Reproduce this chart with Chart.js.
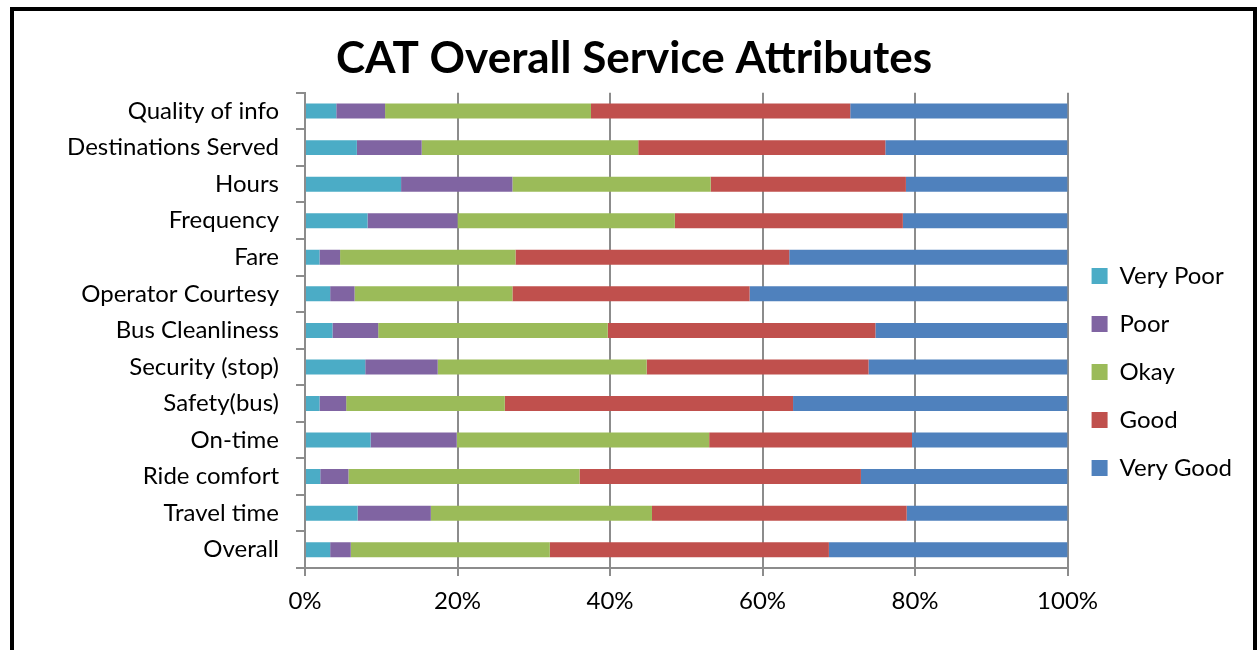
<!DOCTYPE html>
<html lang="en">
<head>
    <meta charset="UTF-8">
    <title>CAT Overall Service Attributes</title>
    <script src="https://cdn.jsdelivr.net/npm/chart.js"></script>
    <style>
        * {
            margin: 0;
            padding: 0;
            box-sizing: border-box;
        }

        body {
            background: #fff;
            overflow: hidden;
            width: 1257px;
            height: 650px;
            position: relative;
        }

        #chart {
            position: absolute;
            left: 0;
            top: 0;
        }

        .frame {
            position: absolute;
            left: 10px;
            top: 7px;
            width: 1247px;
            height: 700px;
            border: 4px solid #000;
            pointer-events: none;
        }
    </style>
</head>
<body>

<canvas id="chart" width="1257" height="732"></canvas>
<div class="frame"></div>

<script>
    // categories, top to bottom
    const categories = ['Quality of info', 'Destinations Served', 'Hours', 'Frequency', 'Fare',
        'Operator Courtesy', 'Bus Cleanliness', 'Security (stop)', 'Safety(bus)', 'On-time',
        'Ride comfort', 'Travel time', 'Overall'];

    // percent of responses per rating
    const veryPoor = [4.1, 6.8, 12.6, 8.2, 1.9, 3.3, 3.6, 7.9, 1.9, 8.6, 2.0, 6.9, 3.3];
    const poor     = [6.4, 8.5, 14.6, 11.8, 2.7, 3.2, 6.0, 9.5, 3.5, 11.3, 3.7, 9.6, 2.7];
    const okay     = [27.0, 28.4, 26.0, 28.5, 23.0, 20.7, 30.1, 27.4, 20.8, 33.1, 30.3, 29.0, 26.1];
    const good     = [34.0, 32.4, 25.6, 29.9, 35.9, 31.1, 35.1, 29.1, 37.8, 26.6, 36.9, 33.4, 36.6];
    const veryGood = [28.5, 23.9, 21.2, 21.6, 36.5, 41.7, 25.2, 26.1, 36.0, 20.4, 27.1, 21.1, 31.3];

    const xTicks = [0, 20, 40, 60, 80, 100];

    const gridColor = '#8c8c8c';
    const fontFamily = 'Lato, "Open Sans", sans-serif';
    const padLeft = 26;

    Chart.defaults.color = '#000';
    Chart.defaults.font.family = fontFamily;

    function series(label, data, color) {
        return {
            label: label,
            data: data,
            backgroundColor: color,
            borderWidth: 0,
            categoryPercentage: 1,
            barPercentage: 0.41
        };
    }

    new Chart(document.getElementById('chart'), {
        type: 'bar',
        data: {
            labels: categories,
            datasets: [
                series('Very Poor', veryPoor, '#4BACC6'),
                series('Poor', poor, '#8064A2'),
                series('Okay', okay, '#9BBB59'),
                series('Good', good, '#C0504D'),
                series('Very Good', veryGood, '#4F81BD')
            ]
        },
        options: {
            indexAxis: 'y',
            responsive: false,
            animation: false,
            devicePixelRatio: 1,
            layout: {
                padding: { top: 12, left: padLeft, right: 15, bottom: 0 }
            },
            plugins: {
                title: {
                    display: true,
                    text: 'CAT Overall Service Attributes',
                    font: { size: 44, weight: 'bold' },
                    color: '#000',
                    padding: { top: 20, bottom: 8 }
                },
                legend: {
                    position: 'right',
                    labels: {
                        boxWidth: 16,
                        boxHeight: 16,
                        padding: 24,
                        font: { size: 24 }
                    }
                },
                tooltip: { enabled: false }
            },
            scales: {
                x: {
                    stacked: true,
                    min: 0,
                    max: 100,
                    afterBuildTicks: function (scale) {
                        scale.ticks = xTicks.map(function (v) { return { value: v }; });
                    },
                    afterFit: function (scale) {
                        scale.height = 732 - 568;
                    },
                    ticks: {
                        padding: 11,
                        font: { size: 24 },
                        callback: function (v) { return v + '%'; }
                    },
                    grid: {
                        color: gridColor,
                        lineWidth: 2,
                        tickLength: 8
                    },
                    border: { color: gridColor, width: 2 }
                },
                y: {
                    stacked: true,
                    afterFit: function (scale) {
                        scale.width = 305 - padLeft;
                    },
                    ticks: {
                        padding: 17,
                        font: { size: 24 }
                    },
                    grid: {
                        drawOnChartArea: false,
                        color: gridColor,
                        lineWidth: 2,
                        tickLength: 9
                    },
                    border: { color: gridColor, width: 2 }
                }
            }
        }
    });
</script>

</body>
</html>
